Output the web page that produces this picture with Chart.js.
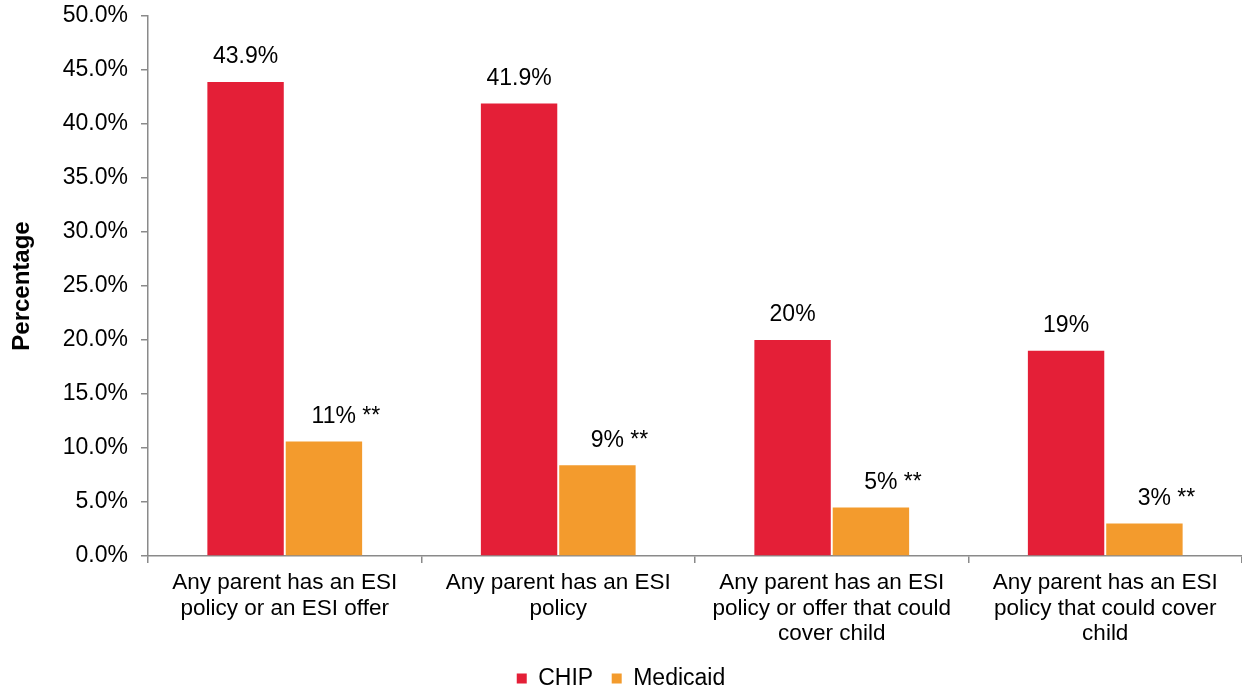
<!DOCTYPE html>
<html>
<head>
<meta charset="utf-8">
<script src="https://cdn.jsdelivr.net/npm/chart.js@4.4.1/dist/chart.umd.min.js"></script>
<style>
html,body{margin:0;padding:0;background:#fff;}
#wrap{width:1242px;height:692px;}
</style>
</head>
<body>
<div id="wrap"><canvas id="c" width="1242" height="692"></canvas></div>
<script>
const categories = [
  ["Any parent has an ESI", "policy or an ESI offer"],
  ["Any parent has an ESI", "policy"],
  ["Any parent has an ESI", "policy or offer that could", "cover child"],
  ["Any parent has an ESI", "policy that could cover", "child"]
];
const seriesNames = ["CHIP", "Medicaid"];
const chipValues = [43.9, 41.9, 20.0, 19.0];
const medicaidValues = [10.6, 8.4, 4.5, 3.0];
const chipLabels = ["43.9%", "41.9%", "20%", "19%"];
const medicaidLabels = ["11% **", "9% **", "5% **", "3% **"];
const yMin = 0, yMax = 50, yStep = 5;

const FONT = "'Liberation Sans', Arial, Helvetica, sans-serif";
const RED = "#E41F37";
const ORANGE = "#F39B2D";
const AXIS = "#8a8a8a";

const dataLabelPlugin = {
  id: "dataLabels",
  afterDatasetsDraw(chart) {
    const ctx = chart.ctx;
    const allLabels = [chipLabels, medicaidLabels];
    ctx.save();
    ctx.font = "23px " + FONT;
    ctx.fillStyle = "#000";
    ctx.textAlign = "center";
    ctx.textBaseline = "middle";
    chart.data.datasets.forEach((ds, di) => {
      const meta = chart.getDatasetMeta(di);
      meta.data.forEach((bar, i) => {
        const dx = di === 1 ? 22 : 0;
        ctx.fillText(allLabels[di][i], bar.x + dx, bar.y - 25);
      });
    });
    ctx.restore();
  }
};

new Chart(document.getElementById("c"), {
  type: "bar",
  data: {
    labels: categories,
    datasets: [
      { label: seriesNames[0], data: chipValues, backgroundColor: RED },
      { label: seriesNames[1], data: medicaidValues, backgroundColor: ORANGE }
    ]
  },
  options: {
    responsive: false,
    animation: false,
    devicePixelRatio: 1,
    layout: { padding: { top: 16, right: 0, left: 0, bottom: -8 } },
    datasets: { bar: { categoryPercentage: 0.573, barPercentage: 0.975 } },
    plugins: {
      legend: {
        position: "bottom",
        labels: {
          font: { family: FONT, size: 23 },
          color: "#000",
          boxWidth: 10,
          boxHeight: 10,
          padding: 18.5
        }
      },
      tooltip: { enabled: false }
    },
    scales: {
      x: {
        grid: { display: true, drawOnChartArea: false, drawTicks: true, tickLength: 7, color: AXIS, lineWidth: 1.5, offset: true },
        border: { display: true, color: AXIS, width: 1.5 },
        ticks: { font: { family: FONT, size: 22.5, lineHeight: 1.14 }, color: "#000", padding: 7, maxRotation: 0, autoSkip: false },
        afterFit(scale) { scale.height = 92.5; scale.paddingLeft = 0; scale.paddingRight = 0; }
      },
      y: {
        min: yMin, max: yMax,
        grid: { display: true, drawOnChartArea: false, drawTicks: true, tickLength: 7, color: AXIS, lineWidth: 1.5 },
        border: { display: true, color: AXIS, width: 1.5 },
        ticks: {
          stepSize: yStep,
          font: { family: FONT, size: 23 },
          color: "#000",
          padding: 13,
          callback: (v) => v.toFixed(1) + "%"
        },
        title: {
          display: true,
          text: "Percentage",
          font: { family: FONT, size: 24, weight: "bold" },
          color: "#000",
          padding: { top: 8, bottom: 0 }
        },
        afterFit(scale) { scale.width = 148; scale.paddingTop = 0; scale.paddingBottom = 0; }
      }
    }
  },
  plugins: [dataLabelPlugin]
});
</script>
</body>
</html>
